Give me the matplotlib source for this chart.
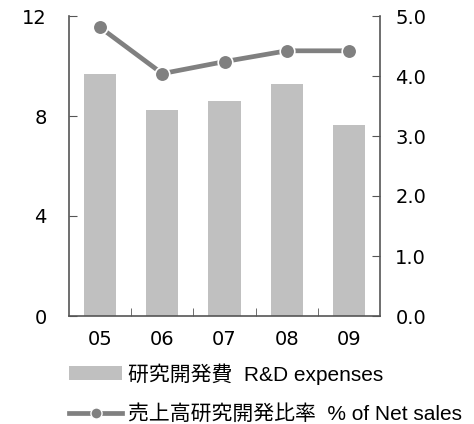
import numpy as np
import matplotlib
matplotlib.use('Agg')
from matplotlib import pyplot as plt
from matplotlib.patches import Patch
from matplotlib.lines import Line2D

plt.rcParams['font.family'] = ['Liberation Sans', 'Noto Sans CJK JP']

years = ['05', '06', '07', '08', '09']
rd_expenses = [9.68, 8.24, 8.6, 9.28, 7.63]
rd_ratio = [4.81, 4.04, 4.24, 4.42, 4.42]
left_ticks = [0, 4, 8, 12]
right_ticks = [0.0, 1.0, 2.0, 3.0, 4.0, 5.0]

bar_color = '#c0c0c0'
line_color = '#808080'
spine_color = '#555555'
tick_font = 'DejaVu Sans'

fig = plt.figure(figsize=(4.74, 4.24), dpi=100)
axis = fig.add_axes([69 / 474, 1 - 316 / 424, 311 / 474, 300 / 424])
x = np.arange(len(years))
axis.bar(x, rd_expenses, width=0.52, color=bar_color, zorder=1)
axis.set_xlim(-0.5, len(years) - 0.5)
axis.set_ylim(0, 12)
axis.set_yticks(left_ticks)
axis.set_yticklabels([str(t) for t in left_ticks], family=tick_font)

axis2 = axis.twinx()
axis2.plot(x, rd_ratio, color=line_color, linewidth=3.4, marker='o', markersize=10.5,
           markeredgecolor='white', markeredgewidth=1.2, zorder=3)
axis2.set_ylim(0, 5)
axis2.set_yticks(right_ticks)
axis2.set_yticklabels([f'{t:.1f}' for t in right_ticks], family=tick_font)

# category labels under the bars, tick marks between categories
axis.set_xticks(x)
axis.set_xticklabels(years, family=tick_font)
axis.set_xticks(np.arange(0.5, len(years) - 0.5, 1), minor=True)
axis.tick_params(axis='x', which='major', length=0, pad=10, labelsize=14)
axis.tick_params(axis='x', which='minor', direction='in', length=6, color=spine_color)
axis.tick_params(axis='y', direction='in', length=6, color=spine_color, pad=16, labelsize=14)
axis2.tick_params(axis='y', direction='in', length=6, color=spine_color, pad=11, labelsize=14)

for ax in (axis, axis2):
    ax.spines['top'].set_visible(False)
    for s in ('left', 'right', 'bottom'):
        ax.spines[s].set_color(spine_color)
        ax.spines[s].set_linewidth(1.2)
axis2.spines['left'].set_visible(False)
axis2.spines['bottom'].set_visible(False)
axis.spines['right'].set_visible(False)

handles = [
    Patch(facecolor=bar_color, edgecolor='none'),
    Line2D([], [], color=line_color, linewidth=3.4, marker='o', markersize=8,
           markeredgecolor='white', markeredgewidth=1),
]
labels = ['研究開発費  R&D expenses', '売上高研究開発比率  % of Net sales']
fig.legend(handles, labels, loc='upper left', bbox_to_anchor=(69 / 474, 1 - 363 / 424),
           frameon=False, fontsize=15, handlelength=2.55, handleheight=0.65,
           handletextpad=0.3, labelspacing=0.95, borderaxespad=0, borderpad=0)

plt.savefig('out.png', dpi=100)
